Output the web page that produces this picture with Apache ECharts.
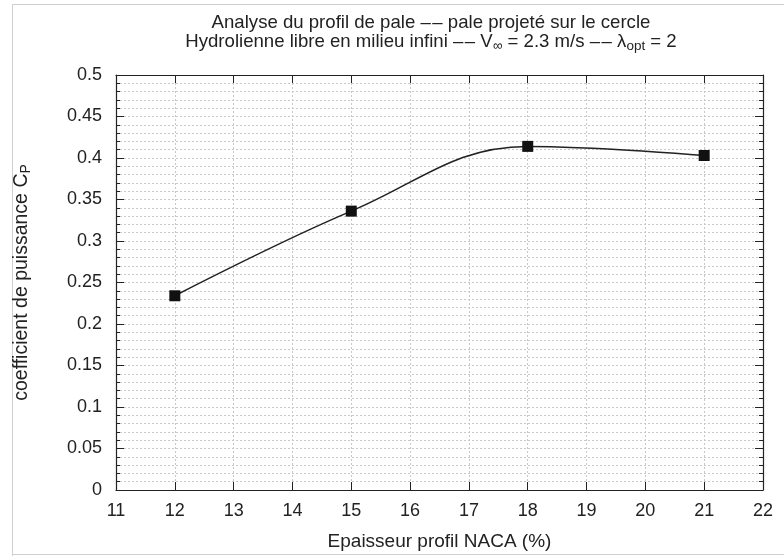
<!DOCTYPE html>
<html>
<head>
<meta charset="utf-8">
<script src="https://cdn.jsdelivr.net/npm/echarts@6/dist/echarts.min.js"></script>
<style>html,body{margin:0;padding:0;background:#fff}#c{width:784px;height:556px}</style>
</head>
<body>
<div id="c"></div>
<script>
var thickness = [12, 15, 18, 21];
var cpValues = [0.234, 0.336, 0.414, 0.403];
var xMin = 11, xMax = 22, xStep = 1;
var yMin = 0, yMax = 0.5, yStep = 0.05;

var FONT = 'Liberation Sans';
var chart = echarts.init(document.getElementById('c'), null, {renderer: 'canvas'});
var grid = {left: 116, right: 21, top: 75, bottom: 64};
var dotted = {show: true, lineStyle: {color: '#c8c8c8', type: [2, 2], width: 1}};
var frameLine = {show: true, onZero: false, lineStyle: {color: '#222', width: 1.2}};

function xAx(pos, labels) {
  return {
    type: 'value', position: pos, min: xMin, max: xMax, interval: xStep,
    axisLine: frameLine,
    axisTick: {show: true, inside: true, length: 8, lineStyle: {color: '#222'}},
    axisLabel: {show: labels, fontFamily: FONT, fontSize: 18, color: '#222', margin: 12},
    splitLine: labels ? dotted : {show: false},
    name: labels ? 'Epaisseur profil NACA (%)' : '',
    nameLocation: 'middle', nameGap: 42,
    nameTextStyle: {fontFamily: FONT, fontSize: 19, color: '#222'}
  };
}
function yAx(pos, labels) {
  return {
    type: 'value', position: pos, min: yMin, max: yMax, interval: yStep,
    axisLine: frameLine,
    axisTick: {show: true, inside: true, length: 8, lineStyle: {color: '#222'}},
    minorTick: {show: true, splitNumber: 5, length: 4, lineStyle: {color: '#222'}},
    axisLabel: {show: labels, fontFamily: FONT, fontSize: 18, color: '#222', margin: 14},
    splitLine: labels ? dotted : {show: false},
    minorSplitLine: labels ? dotted : {show: false},
    name: labels ? '{t|coefficient de puissance C}{s|P}' : '',
    nameLocation: 'middle', nameGap: 83, nameRotate: 90,
    nameTextStyle: {rich: {
      t: {fontFamily: FONT, fontSize: 19.5, color: '#222'},
      s: {fontFamily: FONT, fontSize: 14, color: '#222', verticalAlign: 'bottom', padding: [9, 0, 0, 0]}
    }}
  };
}

chart.setOption({
  backgroundColor: '#fff',
  animation: false,
  title: {
    left: 426, top: 8, textAlign: 'center',
    text: '{a|Analyse du profil de pale –\u200A– pale projeté sur le cercle}\n{a|Hydrolienne libre en milieu infini –\u200A– V}{s|∞}{a| = 2.3 m/s –\u200A– λ}{s|opt}{a| = 2}',
    textStyle: {
      fontWeight: 'normal',
      rich: {
        a: {fontFamily: FONT, fontSize: 18.6, fontWeight: 'normal', color: '#222', lineHeight: 19},
        s: {fontFamily: FONT, fontSize: 13.5, fontWeight: 'normal', color: '#222', lineHeight: 19, padding: [10, 0, 0, 0]}
      }
    }
  },
  grid: grid,
  xAxis: [xAx('bottom', true), xAx('top', false)],
  yAxis: [yAx('left', true), yAx('right', false)],
  graphic: [
    {type: 'line', shape: {x1: 12, y1: 4.5, x2: 784, y2: 4.5}, style: {stroke: '#cfcfcf', lineWidth: 1}, silent: true},
    {type: 'line', shape: {x1: 12.5, y1: 4, x2: 12.5, y2: 556}, style: {stroke: '#cfcfcf', lineWidth: 1}, silent: true},
    {type: 'line', shape: {x1: 12, y1: 554.5, x2: 784, y2: 554.5}, style: {stroke: '#cfcfcf', lineWidth: 1}, silent: true}
  ],
  series: [{
    type: 'line',
    xAxisIndex: 0, yAxisIndex: 0,
    data: thickness.map(function (t, i) { return [t, cpValues[i]]; }),
    smooth: 0.4,
    symbol: 'rect', symbolSize: 11,
    itemStyle: {color: '#111'},
    lineStyle: {color: '#222', width: 1.5}
  }]
});
</script>
</body>
</html>
